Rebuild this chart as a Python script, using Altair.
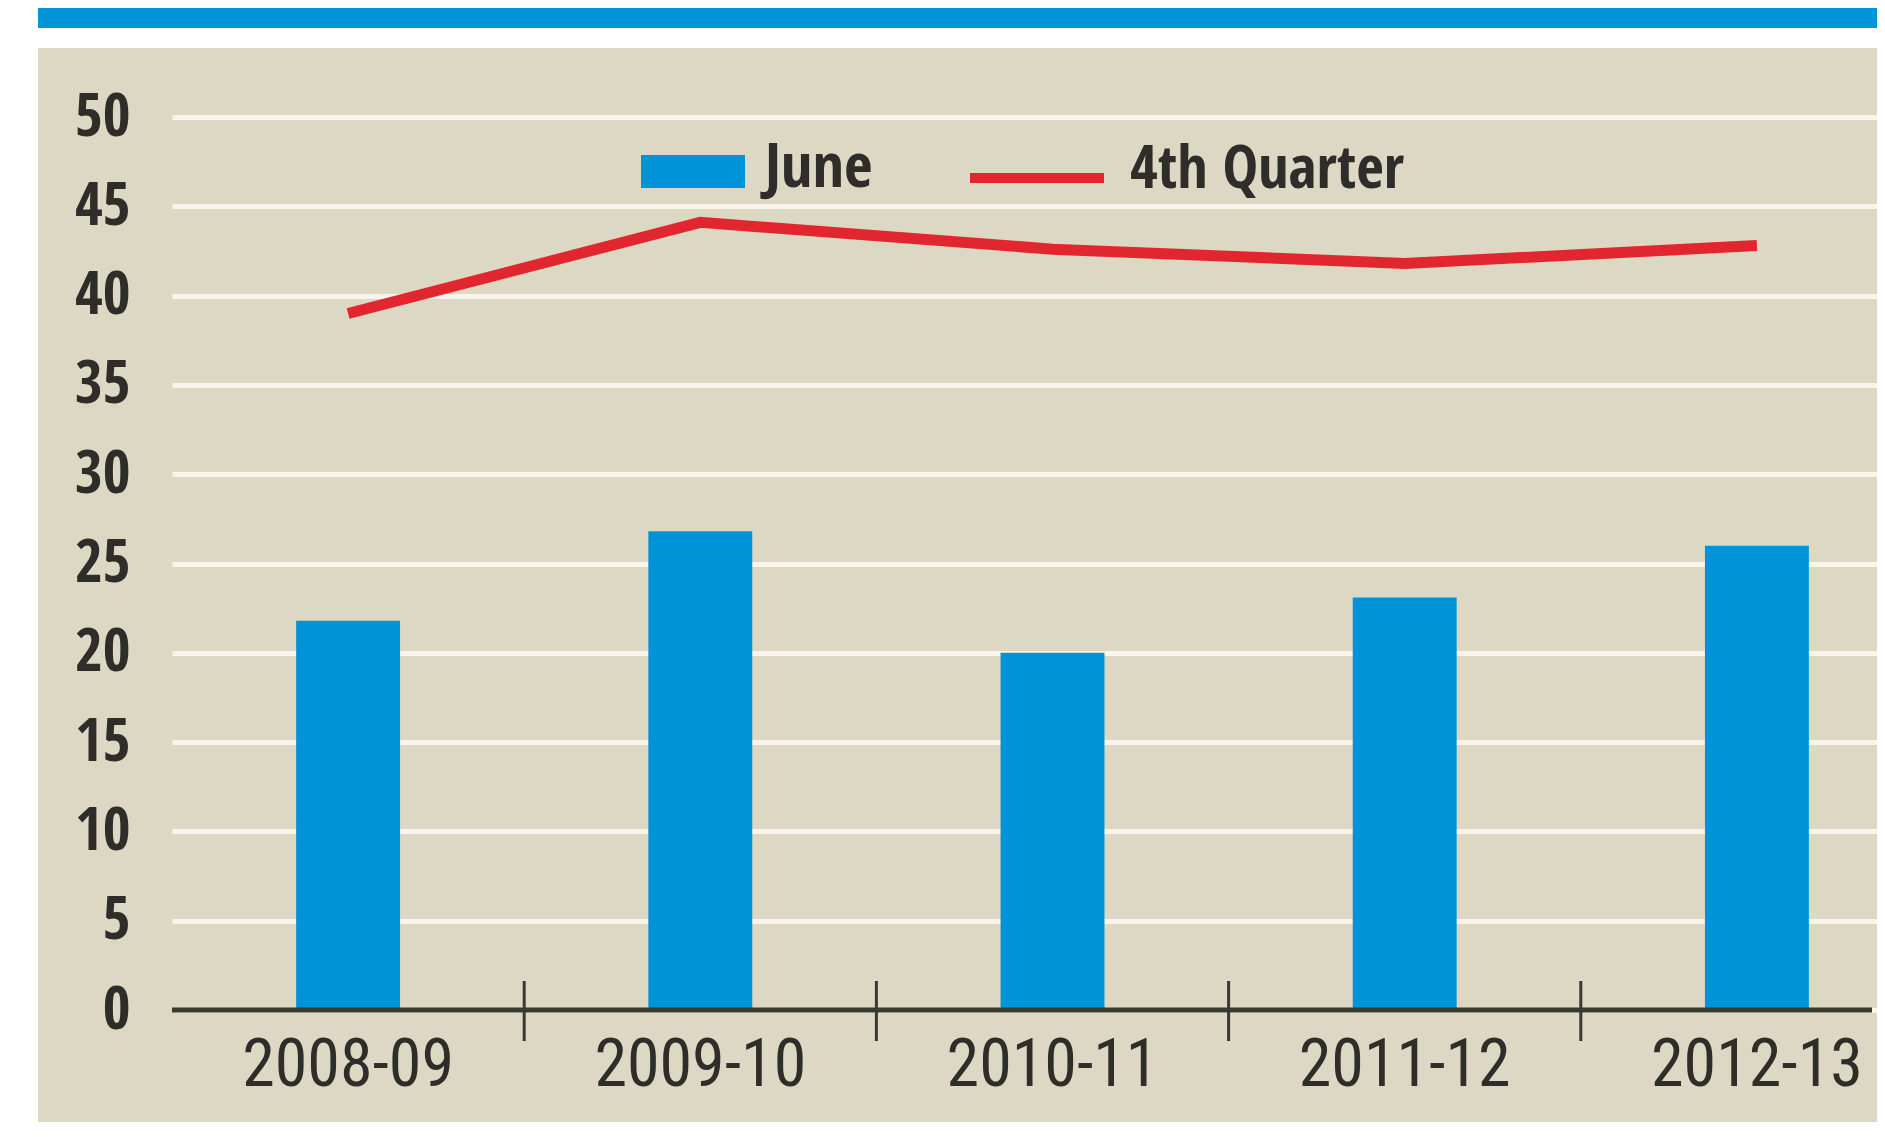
import altair as alt
import pandas as pd

# ---- data ----
seasons = ["2008-09", "2009-10", "2010-11", "2011-12", "2012-13"]
june = [21.8, 26.8, 20.0, 23.1, 26.0]
q4 = [39.0, 44.1, 42.6, 41.8, 42.8]
series_names = ["June", "4th Quarter"]
y_ticks = [0, 5, 10, 15, 20, 25, 30, 35, 40, 45, 50]

df = pd.DataFrame({"season": seasons, "june": june, "q4": q4})
one = pd.DataFrame({"a": [0]})

BEIGE = "#dcd8c3"
BLUE = "#0093d7"
RED = "#e2262f"
DARK = "#2e2d29"
BOLD_FONT = "Open Sans Condensed, Roboto Condensed, DejaVu Sans Condensed"
REG_FONT = "Roboto Condensed, DejaVu Sans Condensed"

W, H = 1700, 893

xscale = alt.Scale(range=[0, 1761], paddingInner=0, paddingOuter=0)
yscale = alt.Scale(domain=[0, 50], nice=False, zero=True)

xenc = alt.X("season:N", sort=seasons, scale=xscale,
             axis=alt.Axis(title=None, labelAngle=0, ticks=False, domain=False, grid=False,
                           labelFont=REG_FONT, labelFontSize=66, labelColor=DARK,
                           labelPadding=23, labelFontWeight="normal", labelLimit=0))
yenc_axis = alt.Axis(title=None, values=y_ticks, ticks=False, domain=False, grid=True,
                     gridColor="#f7f5ec", gridWidth=5, labelFont=BOLD_FONT, labelFontSize=60,
                     labelFontWeight="bold", labelColor=DARK, labelPadding=42, labelLimit=0)

# page decoration: white strips and blue banner (plot origin at page 172,117)
white_left = alt.Chart(one).mark_rect(color="white").encode(
    x=alt.value(-170), x2=alt.value(-134), y=alt.value(-115), y2=alt.value(1010))
white_top = alt.Chart(one).mark_rect(color="white").encode(
    x=alt.value(-170), x2=alt.value(1720), y=alt.value(-90), y2=alt.value(-69))
white_bottom = alt.Chart(one).mark_rect(color="white").encode(
    x=alt.value(-170), x2=alt.value(1720), y=alt.value(1005), y2=alt.value(1020))
banner = alt.Chart(one).mark_rect(color="#0096d9").encode(
    x=alt.value(-134), x2=alt.value(1720), y=alt.value(-115), y2=alt.value(-89))

bars = alt.Chart(df).mark_bar(color=BLUE, width=alt.RelativeBandSize(0.295)).encode(
    x=xenc,
    y=alt.Y("june:Q", scale=yscale, axis=yenc_axis),
)

line = alt.Chart(df).mark_line(color=RED, strokeWidth=11, strokeCap="butt",
                               strokeJoin="miter").encode(
    x=alt.X("season:N", sort=seasons),
    y=alt.Y("q4:Q"),
)

axis_line = alt.Chart(one).mark_rule(color="#3a3931", strokeWidth=5).encode(
    x=alt.value(0), x2=alt.value(W), y=alt.value(H))

tick_df = pd.DataFrame({"season": seasons[1:]})
ticks = alt.Chart(tick_df).mark_rule(color="#3a3931", strokeWidth=3).encode(
    x=alt.X("season:N", sort=seasons, bandPosition=0),
    y=alt.value(864), y2=alt.value(924))

# legend
leg_rect = alt.Chart(one).mark_rect(color=BLUE).encode(
    x=alt.value(469), x2=alt.value(573), y=alt.value(38), y2=alt.value(71))
leg_line = alt.Chart(one).mark_rule(color=RED, strokeWidth=10).encode(
    x=alt.value(798), x2=alt.value(932), y=alt.value(61))
leg_t1 = alt.Chart(pd.DataFrame({"name": [series_names[0]]})).mark_text(
    font=BOLD_FONT, fontSize=62, fontWeight="bold", color=DARK, align="left",
    baseline="alphabetic").encode(text="name:N", x=alt.value(593), y=alt.value(70))
leg_t2 = alt.Chart(pd.DataFrame({"name": [series_names[1]]})).mark_text(
    font=BOLD_FONT, fontSize=60, fontWeight="bold", color=DARK, align="left",
    baseline="alphabetic").encode(text="name:N", x=alt.value(958), y=alt.value(71))

chart = alt.layer(
    white_left, white_top, white_bottom, banner,
    bars, line, axis_line, ticks, leg_rect, leg_line, leg_t1, leg_t2
).properties(
    width=W, height=H,
    autosize=alt.AutoSizeParams(type="none"),
    padding={"left": 164, "top": 109, "right": 5, "bottom": 118},
    background=BEIGE,
).configure_view(stroke=None)

chart.save("out.html", embed_options={"renderer": "svg", "actions": False})
